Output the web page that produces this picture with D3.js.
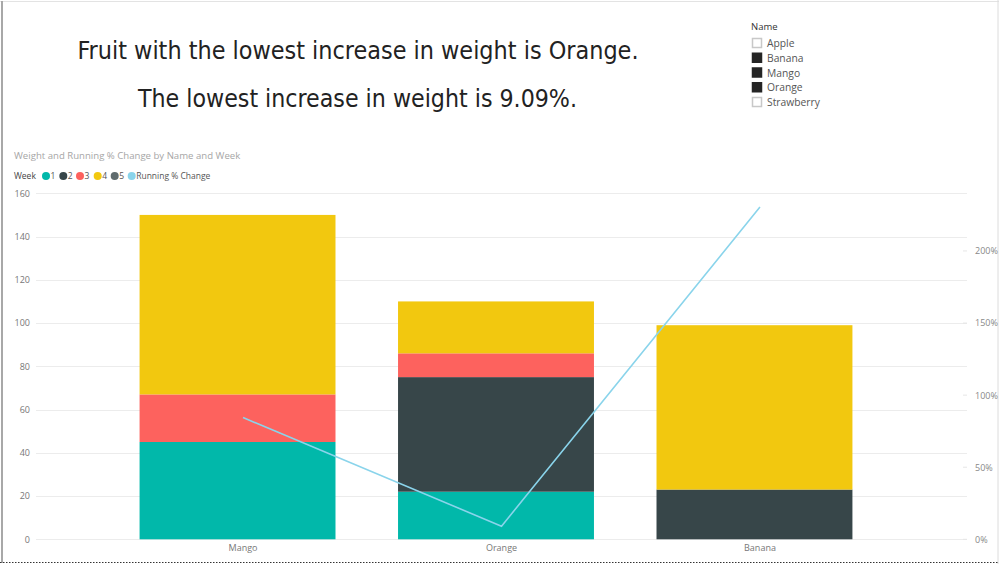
<!DOCTYPE html>
<html><head><meta charset="utf-8">
<script src="https://cdn.jsdelivr.net/npm/d3@7"></script>
<style>
html,body{margin:0;padding:0;background:#fff;}
svg{display:block;}
text{font-family:"Segoe UI","Open Sans","DejaVu Sans",sans-serif;}
</style></head>
<body>
<svg id="c" width="999" height="564"></svg>
<script>
// ---- data ----
const names = ["Mango", "Orange", "Banana"];
const weeks = ["1", "2", "3", "4", "5"];
const week1 = [45, 22, 0];
const week2 = [0, 53, 23];
const week3 = [22, 11, 0];
const week4 = [83, 24, 76];
const week5 = [0, 0, 0];
const runningPct = [0.8444, 0.0909, 2.3043];
const yTicks = [0, 20, 40, 60, 80, 100, 120, 140, 160];
const y2Ticks = [0, 0.5, 1, 1.5, 2];
const slicerItems = ["Apple", "Banana", "Mango", "Orange", "Strawberry"];
const slicerChecked = [false, true, true, true, false];
const headline1 = "Fruit with the lowest increase in weight is Orange.";
const headline2 = "The lowest increase in weight is 9.09%.";
const chartTitle = "Weight and Running % Change by Name and Week";
const weekColors = ["#01B8AA", "#374649", "#FD625E", "#F2C80F", "#5F6B6D"];
const lineColor = "#8AD4EB";

const svg = d3.select("#c");

// frame
svg.append("line").attr("x1",0).attr("x2",999).attr("y1",1.5).attr("y2",1.5).attr("stroke","#e3e3e3").attr("stroke-width",1);
svg.append("line").attr("x1",998).attr("x2",998).attr("y1",0).attr("y2",564).attr("stroke","#dcdcdc").attr("stroke-width",1);
svg.append("rect").attr("x",1).attr("y",1).attr("width",2).attr("height",562).attr("fill","#a8a8a8");
svg.append("line").attr("x1",0).attr("x2",999).attr("y1",562.5).attr("y2",562.5).attr("stroke","#333").attr("stroke-width",1).attr("stroke-dasharray","1.5,1.5");

// headlines
svg.append("text").attr("x",358).attr("y",59).attr("text-anchor","middle")
  .attr("font-size",24).attr("fill","#222").style("font-family","'DejaVu Sans Condensed','Roboto',sans-serif")
  .attr("textLength",561).attr("lengthAdjust","spacingAndGlyphs").text(headline1);
svg.append("text").attr("x",357.5).attr("y",107).attr("text-anchor","middle")
  .attr("font-size",24).attr("fill","#222").style("font-family","'DejaVu Sans Condensed','Roboto',sans-serif")
  .attr("textLength",439).attr("lengthAdjust","spacingAndGlyphs").text(headline2);

// slicer
svg.append("text").attr("x",751).attr("y",30).attr("font-size",9.5).attr("fill","#333").text("Name");
const sl = svg.append("g").selectAll("g").data(slicerItems).join("g")
  .attr("transform",(d,i)=>`translate(752,${43 + i*14.75})`);
sl.append("rect").attr("x",0.5).attr("y",-4.5).attr("width",9).attr("height",9)
  .attr("fill",(d,i)=>slicerChecked[i]?"#252525":"#fff")
  .attr("stroke",(d,i)=>slicerChecked[i]?"#252525":"#c8c8c8").attr("stroke-width",1.5);
sl.append("text").attr("x",15).attr("y",4).attr("font-size",10.3).attr("fill","#555").text(d=>d);

// chart title + legend
svg.append("text").attr("x",14).attr("y",159).attr("font-size",9.6).attr("fill","#a6a6a6").text(chartTitle);
svg.append("text").attr("x",14).attr("y",179).attr("font-size",8.5).attr("fill","#444").text("Week");
const legItems = weeks.map((w,i)=>({label:w,color:weekColors[i]})).concat([{label:"Running % Change",color:lineColor}]);
const legX = [46, 63.3, 80, 97.7, 114.7, 131.7];
const lg = svg.append("g").selectAll("g").data(legItems).join("g")
  .attr("transform",(d,i)=>`translate(${legX[i]},176)`);
lg.append("circle").attr("r",4).attr("fill",d=>d.color);
lg.append("text").attr("x",4.5).attr("y",3).attr("font-size",8.5).attr("fill","#555").text(d=>d.label);

// scales
const plotL = 36, plotR = 967, plotT = 193.3, plotB = 539.3;
const y = d3.scaleLinear().domain([0,160]).range([plotB, plotT]);
const y2 = d3.scaleLinear().domain([0,2.4]).range([plotB, plotT]);
const x = d3.scaleBand().domain(names).range([plotL, plotR]).paddingInner(0.242).paddingOuter(0.422);
const barShift = -5.5;

// gridlines
svg.append("g").selectAll("line").data(yTicks).join("line")
  .attr("x1",plotL).attr("x2",plotR).attr("y1",d=>Math.round(y(d))+0.5).attr("y2",d=>Math.round(y(d))+0.5)
  .attr("stroke","#ececec").attr("stroke-width",1);

// left axis
const ax = svg.append("g").attr("transform",`translate(${plotL},0)`)
  .call(d3.axisLeft(y).tickValues(yTicks).tickSize(0).tickPadding(6));
ax.select(".domain").remove();
ax.selectAll("text").attr("font-size",9).attr("fill","#777").style("font-family","'Segoe UI','Open Sans',sans-serif");

// right axis
const ax2 = svg.append("g").attr("transform",`translate(${plotR},0)`)
  .call(d3.axisRight(y2).tickValues(y2Ticks).tickFormat(d3.format(".0%")).tickSize(0).tickPadding(8));
ax2.select(".domain").remove();
ax2.selectAll("text").attr("font-size",9).attr("fill","#888").style("font-family","'Segoe UI','Open Sans',sans-serif");
svg.append("g").selectAll("line").data(y2Ticks).join("line")
  .attr("x1",plotR-4).attr("x2",plotR).attr("y1",d=>y2(d)).attr("y2",d=>y2(d))
  .attr("stroke","#e6e6e6").attr("stroke-width",1);

// stacked bars
const rows = names.map((n,i)=>({name:n, "1":week1[i], "2":week2[i], "3":week3[i], "4":week4[i], "5":week5[i]}));
const stack = d3.stack().keys(weeks)(rows);
svg.append("g").selectAll("g").data(stack).join("g")
  .attr("fill",(d,i)=>weekColors[i])
  .selectAll("rect").data(d=>d.filter(s=>s[1]-s[0]>0)).join("rect")
  .attr("x",d=>x(d.data.name)+barShift).attr("width",x.bandwidth())
  .attr("y",d=>y(d[1])).attr("height",d=>y(d[0])-y(d[1]));

// category labels
const xa = svg.append("g").attr("transform",`translate(0,${plotB})`)
  .call(d3.axisBottom(x).tickSize(0).tickPadding(5));
xa.select(".domain").remove();
xa.selectAll("text").attr("font-size",9).attr("fill","#777").style("font-family","'Segoe UI','Open Sans',sans-serif");

// line
const line = d3.line().x((d,i)=>x(names[i])+x.bandwidth()/2).y(d=>y2(d));
svg.append("path").datum(runningPct).attr("d",line)
  .attr("fill","none").attr("stroke",lineColor).attr("stroke-width",1.6);
</script>
</body></html>
